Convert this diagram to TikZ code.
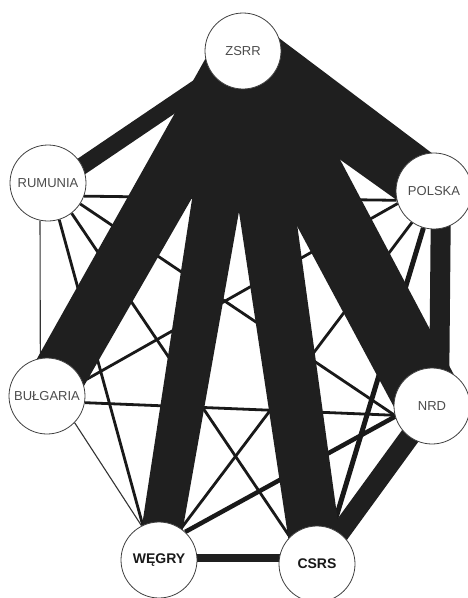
\documentclass[tikz,border=0pt]{standalone}
\usepackage{fontspec}
\setmainfont{Liberation Sans}
\usetikzlibrary{calc,backgrounds}
\begin{document}
\begin{tikzpicture}[x=1pt,y=-1pt,
  country/.style={circle,draw=black!75,line width=0.8pt,fill=white,minimum size=76pt,inner sep=0pt,font=\fontsize{13}{13}\selectfont,text=black!70},
  strong/.style={country,font=\fontsize{14}{14}\selectfont\bfseries,text=black!90},
  band/.style={draw=black!88,line cap=butt},
  bandfill/.style={fill=black!88},
  link/.style={draw=black!90,line width=2.8pt},
  hair/.style={draw=black!80,line width=1.1pt}]
\useasboundingbox (0,0) rectangle (468,598);
\node[country] (ZSRR) at (243,51) {ZSRR};
\node[country] (RUM) at (48,183) {RUMUNIA};
\node[country] (POL) at (434,191) {POLSKA};
\node[country] (BUL) at (47,396) {BUŁGARIA};
\node[country] (NRD) at (432,406) {NRD};
\node[strong] (WEG) at (159,560) {WĘGRY};
\node[strong] (CSRS) at (317,564) {CSRS};
\coordinate (zw) at ($(ZSRR.center)+(-2,0)$);
\coordinate (ww) at ($(WEG.center)+(-2,0)$);
\coordinate (zc) at ($(ZSRR.center)+(1,0)$);
\coordinate (cc) at ($(CSRS.center)+(1,0)$);
\begin{pgfonlayer}{background}
  % thin links
  \draw[link] (RUM.-20) -- (POL.194);
  \draw[hair] (RUM.-102) -- (BUL.100);
  \draw[link] (RUM.-33) -- (NRD.194);
  \draw[link] (RUM.-73) -- (WEG.115);
  \draw[link] (RUM.-52) -- (CSRS.135);
  \draw[link] (BUL.22) -- (POL.199);
  \draw[link] (BUL.-10) -- (NRD.194);
  \draw[hair] (BUL.-44) -- (WEG.117);
  \draw[link] (WEG.55) -- (POL.235);
  \draw[link,line width=4.5pt] (WEG.47) -- (NRD.196);
  \draw[link,line width=5pt] (POL.254) -- (CSRS.66);
  % bands from ZSRR (slightly tapered)
  \draw[band,line width=17pt] ($(ZSRR.center)+(3,4)$) -- ($(RUM.center)+(3,4)$);
  \fill[bandfill] ($(ZSRR.center)!32pt!90:(POL.center)$) -- ($(ZSRR.center)!32pt!-90:(POL.center)$)
    -- ($(POL.center)!29pt!90:(ZSRR.center)$) -- ($(POL.center)!29pt!-90:(ZSRR.center)$) -- cycle;
  \fill[bandfill] ($(ZSRR.center)!29pt!90:(BUL.center)$) -- ($(ZSRR.center)!29pt!-90:(BUL.center)$)
    -- ($(BUL.center)!27pt!90:(ZSRR.center)$) -- ($(BUL.center)!27pt!-90:(ZSRR.center)$) -- cycle;
  \fill[bandfill] ($(zw)!26pt!90:(ww)$) -- ($(zw)!26pt!-90:(ww)$)
    -- ($(ww)!20pt!90:(zw)$) -- ($(ww)!20pt!-90:(zw)$) -- cycle;
  \fill[bandfill] ($(zc)!29pt!90:(cc)$) -- ($(zc)!29pt!-90:(cc)$)
    -- ($(cc)!25.5pt!90:(zc)$) -- ($(cc)!25.5pt!-90:(zc)$) -- cycle;
  \fill[bandfill] ($(ZSRR.center)!35pt!90:(NRD.center)$) -- ($(ZSRR.center)!35pt!-90:(NRD.center)$)
    -- ($(NRD.center)!34pt!90:(ZSRR.center)$) -- ($(NRD.center)!34pt!-90:(ZSRR.center)$) -- cycle;
  % other bands
  \draw[band,line width=20pt] ($(POL.center)+(7,0)$) -- ($(NRD.center)+(7,0)$);
  \draw[band,line width=20pt] (NRD.center) -- (CSRS.center);
  \draw[band,line width=8pt] ($(WEG.center)+(0,-2.5)$) -- ($(CSRS.center)+(0,-6.5)$);
\end{pgfonlayer}
\end{tikzpicture}
\end{document}
